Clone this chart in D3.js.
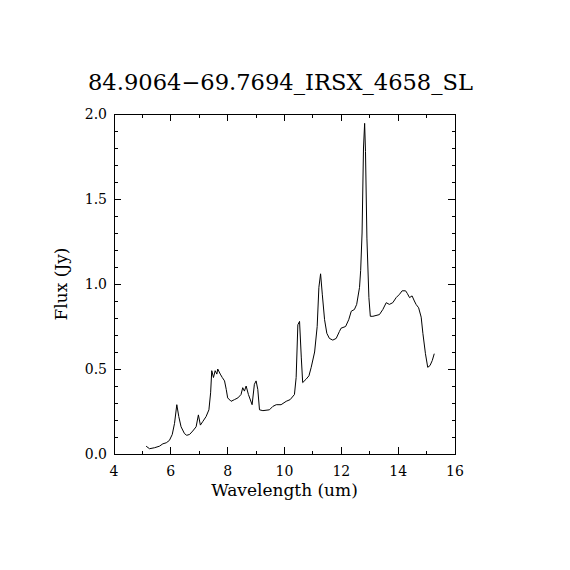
<!DOCTYPE html>
<html>
<head>
<meta charset="utf-8">
<script src="https://cdn.jsdelivr.net/npm/d3@7"></script>
<style>
  body { margin: 0; background: #fff; }
  svg text { font-family: "DejaVu Serif", serif; fill: #000; }
</style>
</head>
<body>
<div id="chart"></div>
<script>
const width = 570;
const height = 570;
const margin = { top: 114, right: 115, bottom: 116, left: 114 };

const title = "84.9064\u221269.7694_IRSX_4658_SL";
const xLabel = "Wavelength (um)";
const yLabel = "Flux (Jy)";

const xTicks = [4, 6, 8, 10, 12, 14, 16];
const yTicks = [0, 0.5, 1.0, 1.5, 2.0];

const wavelength = [
  5.13, 5.25, 5.43, 5.60, 5.72, 5.84, 5.95, 6.05, 6.13, 6.21, 6.28, 6.36, 6.48, 6.56, 6.66,
  6.77, 6.89, 6.97, 7.04, 7.12, 7.24, 7.34, 7.40, 7.44, 7.50, 7.56, 7.62, 7.65, 7.74, 7.81,
  7.89, 7.95, 8.00, 8.12, 8.24, 8.36, 8.47, 8.53, 8.59, 8.65, 8.73, 8.86, 8.94, 9.00, 9.06,
  9.12, 9.24, 9.47, 9.59, 9.71, 9.88, 10.06, 10.20, 10.35, 10.41, 10.47, 10.53, 10.59, 10.64,
  10.76, 10.86, 10.94, 11.06, 11.15, 11.21, 11.27, 11.33, 11.41, 11.49, 11.58, 11.70, 11.82,
  11.93, 11.99, 12.15, 12.26, 12.35, 12.46, 12.54, 12.64, 12.68, 12.73, 12.78, 12.82, 12.85,
  12.90, 12.97, 13.02, 13.11, 13.34, 13.46, 13.58, 13.69, 13.81, 13.93, 14.05, 14.14, 14.26,
  14.32, 14.40, 14.49, 14.57, 14.63, 14.72, 14.81, 14.87, 14.96, 15.04, 15.12, 15.20, 15.27
];
const flux = [
  0.046, 0.031, 0.037, 0.046, 0.060, 0.066, 0.080, 0.115, 0.180, 0.290, 0.220, 0.160, 0.120, 0.110, 0.115,
  0.135, 0.160, 0.230, 0.170, 0.190, 0.220, 0.260, 0.360, 0.490, 0.450, 0.490, 0.470, 0.500, 0.470, 0.450,
  0.430, 0.380, 0.330, 0.310, 0.320, 0.330, 0.350, 0.390, 0.370, 0.400, 0.350, 0.290, 0.410, 0.430, 0.380,
  0.260, 0.255, 0.260, 0.280, 0.290, 0.290, 0.310, 0.320, 0.350, 0.450, 0.760, 0.780, 0.570, 0.420,
  0.440, 0.460, 0.510, 0.600, 0.750, 0.980, 1.060, 0.940, 0.790, 0.710, 0.680, 0.670, 0.680,
  0.720, 0.740, 0.750, 0.790, 0.840, 0.850, 0.880, 0.980, 1.080, 1.300, 1.800, 1.945, 1.780,
  1.270, 0.920, 0.810, 0.810, 0.820, 0.850, 0.890, 0.880, 0.890, 0.920, 0.940, 0.960, 0.960,
  0.945, 0.920, 0.930, 0.900, 0.880, 0.860, 0.805, 0.710, 0.590, 0.510, 0.520, 0.550, 0.590
];

const spectrum = wavelength.map((w, i) => [w, flux[i]]);

const svg = d3.select("#chart")
  .append("svg")
  .attr("width", width)
  .attr("height", height);

const xScale = d3.scaleLinear()
  .domain([4, 16])
  .range([margin.left, width - margin.right]);

const yScale = d3.scaleLinear()
  .domain([0, 2])
  .range([height - margin.bottom, margin.top]);

const x0 = margin.left, x1 = width - margin.right;
const y0 = height - margin.bottom, y1 = margin.top;

// frame
svg.append("rect")
  .attr("x", x0)
  .attr("y", y1)
  .attr("width", x1 - x0)
  .attr("height", y0 - y1)
  .attr("fill", "none")
  .attr("stroke", "#000")
  .attr("stroke-width", 1)
  .attr("shape-rendering", "crispEdges");

const xMinor = d3.range(4, 16.01, 1);
const yMinor = d3.range(0, 2.001, 0.1);

// ticks point inward on all four sides
const tickG = svg.append("g")
  .attr("stroke", "#000")
  .attr("stroke-width", 1)
  .attr("shape-rendering", "crispEdges");

xMinor.forEach(v => {
  const len = xTicks.includes(v) ? 7 : 3.5;
  tickG.append("line").attr("x1", xScale(v)).attr("x2", xScale(v)).attr("y1", y0).attr("y2", y0 - len);
  tickG.append("line").attr("x1", xScale(v)).attr("x2", xScale(v)).attr("y1", y1).attr("y2", y1 + len);
});

yMinor.forEach(v => {
  const major = yTicks.some(t => Math.abs(t - v) < 1e-6);
  const len = major ? 7 : 3.5;
  tickG.append("line").attr("x1", x0).attr("x2", x0 + len).attr("y1", yScale(v)).attr("y2", yScale(v));
  tickG.append("line").attr("x1", x1).attr("x2", x1 - len).attr("y1", yScale(v)).attr("y2", yScale(v));
});

// tick labels
svg.append("g")
  .selectAll("text")
  .data(xTicks)
  .enter()
  .append("text")
  .attr("x", d => xScale(d))
  .attr("y", y0 + 22)
  .attr("text-anchor", "middle")
  .attr("font-size", 14)
  .text(d => d);

svg.append("g")
  .selectAll("text")
  .data(yTicks)
  .enter()
  .append("text")
  .attr("x", x0 - 7)
  .attr("y", d => yScale(d) + 5)
  .attr("text-anchor", "end")
  .attr("font-size", 14)
  .text(d => d.toFixed(1));

// spectrum line
const line = d3.line()
  .x(d => xScale(d[0]))
  .y(d => yScale(d[1]));

svg.append("path")
  .datum(spectrum)
  .attr("d", line)
  .attr("fill", "none")
  .attr("stroke", "#000")
  .attr("stroke-width", 1);

// title and axis labels
svg.append("text")
  .attr("x", (x0 + x1) / 2 - 4)
  .attr("y", 90)
  .attr("text-anchor", "middle")
  .attr("font-size", 22)
  .attr("textLength", 385)
  .attr("lengthAdjust", "spacingAndGlyphs")
  .text(title);

svg.append("text")
  .attr("x", (x0 + x1) / 2)
  .attr("y", 496)
  .attr("text-anchor", "middle")
  .attr("font-size", 17)
  .text(xLabel);

svg.append("text")
  .attr("transform", `translate(67, ${(y0 + y1) / 2}) rotate(-90)`)
  .attr("text-anchor", "middle")
  .attr("font-size", 17)
  .text(yLabel);
</script>
</body>
</html>
